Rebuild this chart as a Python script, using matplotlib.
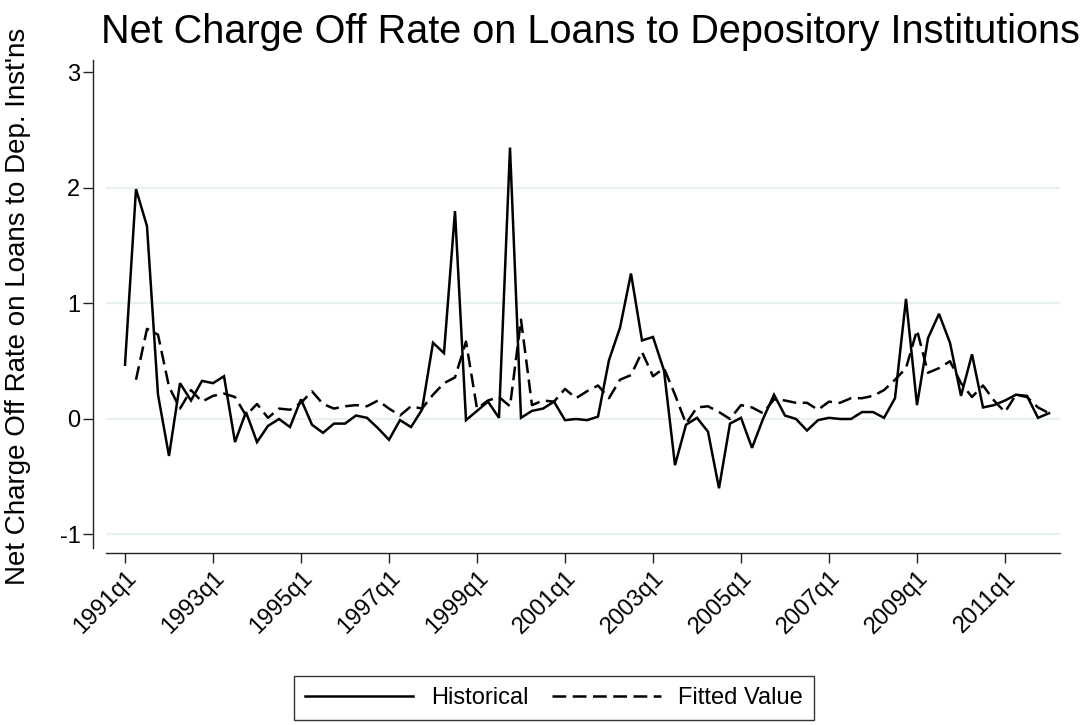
import numpy as np
import matplotlib
matplotlib.use("Agg")
import matplotlib.pyplot as plt

# ---- data (quarterly, starting 1991q1) ----
start_year = 1991
historical = [0.47, 1.99, 1.67, 0.21, -0.32, 0.31, 0.16, 0.33, 0.31, 0.37,
              -0.20, 0.06, -0.20, -0.06, 0.00, -0.07, 0.17, -0.05, -0.12, -0.04,
              -0.04, 0.03, 0.01, -0.08, -0.18, -0.01, -0.07, 0.08, 0.66, 0.57,
              1.80, -0.01, 0.07, 0.15, 0.01, 2.35, 0.01, 0.07, 0.09, 0.15,
              -0.01, 0.00, -0.01, 0.02, 0.51, 0.79, 1.26, 0.68, 0.71, 0.42,
              -0.40, -0.05, 0.01, -0.11, -0.60, -0.04, 0.01, -0.25, 0.00, 0.21,
              0.03, 0.00, -0.10, -0.01, 0.01, 0.00, 0.00, 0.06, 0.06, 0.01,
              0.18, 1.04, 0.12, 0.70, 0.91, 0.66, 0.20, 0.56, 0.10, 0.12,
              0.16, 0.21, 0.20, 0.01, 0.05]
# fitted starts one quarter later (1991q2)
fitted = [0.34, 0.78, 0.73, 0.28, 0.09, 0.25, 0.15, 0.20, 0.22,
          0.19, 0.03, 0.13, 0.01, 0.09, 0.08, 0.14, 0.24, 0.13, 0.09,
          0.11, 0.12, 0.11, 0.16, 0.09, 0.03, 0.11, 0.09, 0.21, 0.31,
          0.36, 0.67, 0.09, 0.16, 0.19, 0.11, 0.86, 0.12, 0.16, 0.15,
          0.26, 0.18, 0.24, 0.29, 0.18, 0.34, 0.38, 0.58, 0.37, 0.44,
          0.21, -0.04, 0.10, 0.11, 0.06, 0.00, 0.12, 0.10, 0.05, 0.17,
          0.16, 0.14, 0.14, 0.08, 0.15, 0.14, 0.18, 0.18, 0.20, 0.25,
          0.34, 0.44, 0.77, 0.40, 0.44, 0.50, 0.31, 0.19, 0.29, 0.16,
          0.06, 0.21, 0.19, 0.10, 0.05]
fitted_offset = 1
tick_labels = ["1991q1", "1993q1", "1995q1", "1997q1", "1999q1", "2001q1",
               "2003q1", "2005q1", "2007q1", "2009q1", "2011q1"]
y_ticks = [-1, 0, 1, 2, 3]
grid_vals = [-1, 0, 1, 2]

title = "Net Charge Off Rate on Loans to Depository Institutions"
ylabel = "Net Charge Off Rate on Loans to Dep. Inst'ns"

plt.rcParams['font.family'] = ['Liberation Sans', 'DejaVu Sans']

W, H = 1087, 725
fig = plt.figure(figsize=(W / 100, H / 100), dpi=100)

# plot region in pixels
x0, x1 = 106, 1060
yt, yb = 60, 548
ax = fig.add_axes([x0 / W, 1 - yb / H, (x1 - x0) / W, (yb - yt) / H])

xh = np.arange(len(historical))
xf = np.arange(len(fitted)) + fitted_offset

for g in grid_vals:
    ax.axhline(g, color='#e9f0f1', lw=1.6, zorder=0)

ax.plot(xh, historical, color='black', lw=1.8, label='Historical',
        solid_joinstyle='miter', zorder=3)
ax.plot(xf, fitted, color='black', lw=1.8, linestyle=(0, (5.5, 2.6)),
        label='Fitted Value', zorder=2)

ax.set_xlim(-1.727, 85.0)
ax.set_ylim(-1.117, 3.108)

for s in ['top', 'right']:
    ax.spines[s].set_visible(False)
ax.spines['left'].set_position(('outward', 13 * 0.72))
ax.spines['bottom'].set_position(('outward', 5 * 0.72))
for s in ['left', 'bottom']:
    ax.spines[s].set_linewidth(1.0)
    ax.spines[s].set_color('#222222')

ax.tick_params(axis='x', length=7, width=1.0, pad=3, color='#222222',
               labelsize=17, labelrotation=45)
ax.tick_params(axis='y', length=7, width=1.0, pad=2, color='#222222',
               labelsize=17)

tick_pos = [(int(s[:4]) - start_year) * 4 + int(s[-1]) - 1 for s in tick_labels]
ax.set_xticks(tick_pos, tick_labels)
ax.set_yticks(y_ticks, [str(v) for v in y_ticks])
for lab in ax.get_xticklabels():
    lab.set_ha('right')
    lab.set_va('top')
    lab.set_rotation_mode('anchor')
    lab.set_rotation(45)
    lab.set_fontsize(17)
for lab in ax.get_yticklabels():
    lab.set_fontsize(17)

fig.text(18 / W, 1 - 306 / H, ylabel, rotation=90, ha='center', va='center',
         fontsize=20)
fig.text(590 / W, 1 - 43 / H, title, ha='center', va='baseline', fontsize=28.5)

leg = fig.legend(loc='center', bbox_to_anchor=(554 / W, 1 - 698 / H), ncol=2,
                 fontsize=17, frameon=True, fancybox=False, edgecolor='black',
                 handlelength=4.6, handletextpad=0.75, columnspacing=1.0,
                 borderpad=0.45, borderaxespad=0)
leg.get_frame().set_linewidth(1.0)

fig.savefig('out.png', dpi=100, facecolor='white')
